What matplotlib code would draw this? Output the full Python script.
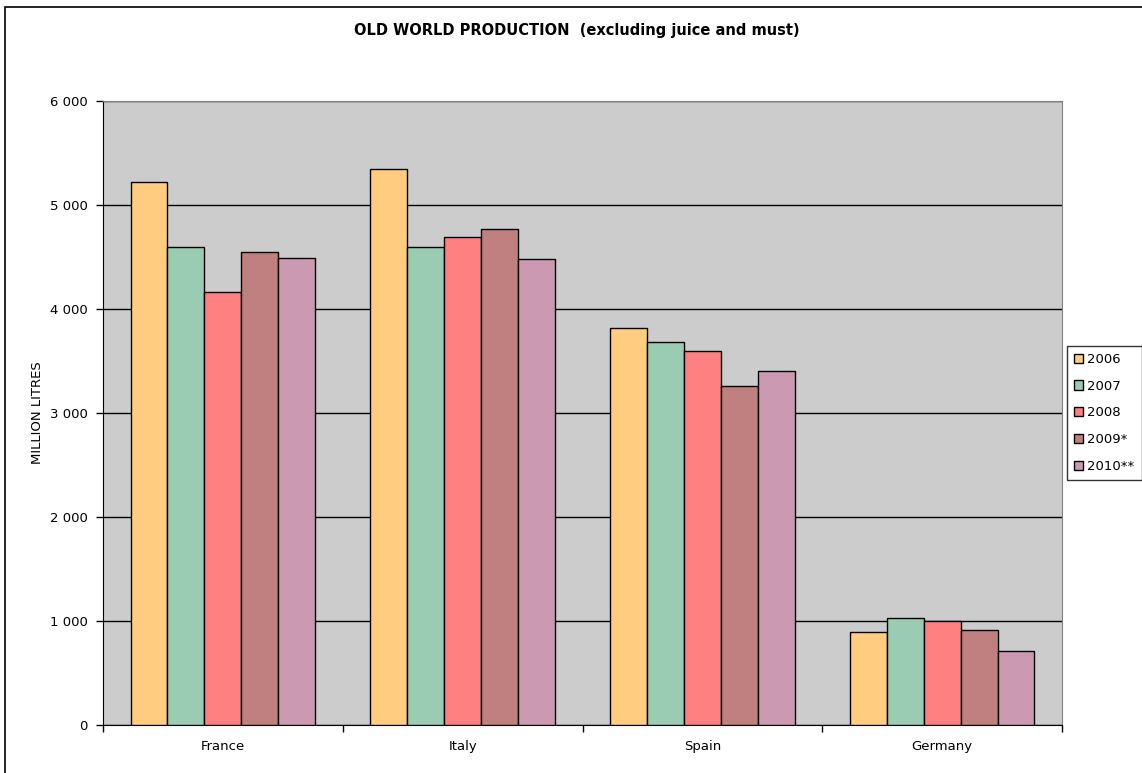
#!/usr/bin/env python3
""" Old world wine production, grouped bars by country and year """

import numpy as np
import matplotlib.pyplot as plt
from matplotlib.patches import Rectangle
from matplotlib.ticker import FuncFormatter

countries = ["France", "Italy", "Spain", "Germany"]
years = ["2006", "2007", "2008", "2009*", "2010**"]
prod_2006 = [5220, 5345, 3820, 890]
prod_2007 = [4600, 4592, 3684, 1030]
prod_2008 = [4160, 4691, 3594, 1004]
prod_2009 = [4550, 4768, 3256, 914]
prod_2010 = [4490, 4476, 3401, 714]
colors = ["#FFCC80", "#99CCB2", "#FF8080", "#C08080", "#CC99B2"]

plt.rcParams['font.family'] = ['DejaVu Sans']

fig = plt.figure(figsize=(11.42, 7.73), dpi=100)
# chart border, running off the right and bottom edges
fig.patches.append(Rectangle((4.5 / 1142, -0.05), 1.1, 1 - 7 / 773 + 0.05,
                             transform=fig.transFigure, fill=False,
                             edgecolor="#000000", linewidth=1.2))

ax = fig.add_axes([103 / 1142, 1 - 725 / 773, 959 / 1142, 624 / 773])
ax.set_facecolor("#CCCCCC")

series = [prod_2006, prod_2007, prod_2008, prod_2009, prod_2010]
x = np.arange(len(countries))
w = 0.154
for i, (yr, vals, c) in enumerate(zip(years, series, colors)):
    ax.bar(x + (i - 2) * w, vals, w, color=c, edgecolor="black",
           linewidth=1.0, label=yr, zorder=3)

ax.set_xlim(-0.5, 3.5)
ax.set_ylim(0, 6000)
ax.set_yticks(range(0, 6001, 1000))
ax.yaxis.set_major_formatter(FuncFormatter(lambda v, p: f"{int(v):,}".replace(",", " ")))
ax.yaxis.grid(True, color="#000000", linewidth=1.0, zorder=1)
ax.set_axisbelow(True)

ax.set_xticks(x)
ax.set_xticklabels(countries)
ax.set_xticks(np.arange(-0.5, 3.6, 1), minor=True)
ax.tick_params(axis="x", which="major", length=0, pad=11, labelsize=9.5)
ax.tick_params(axis="x", which="minor", length=5, width=1, direction="out")
ax.tick_params(axis="y", length=5, width=1, direction="out", labelsize=9.5, pad=6)

for s in ["top", "right"]:
    ax.spines[s].set_color("#808080")
for s in ["left", "bottom"]:
    ax.spines[s].set_color("#000000")

ax.set_ylabel("MILLION LITRES", fontsize=9.5, labelpad=4)
fig.text(577 / 1142, 1 - 30 / 773, "OLD WORLD PRODUCTION  (excluding juice and must)",
         ha="center", va="center", fontsize=10.5, fontweight="bold")

leg = ax.legend(loc="center left", bbox_to_anchor=(1.005, 0.5), frameon=True,
                fancybox=False, edgecolor="black", fontsize=9.5, handlelength=0.7,
                handleheight=0.7, handletextpad=0.3, labelspacing=1.05,
                borderpad=0.55, borderaxespad=0)
leg.get_frame().set_linewidth(1.0)

fig.savefig("out.png", dpi=100)
